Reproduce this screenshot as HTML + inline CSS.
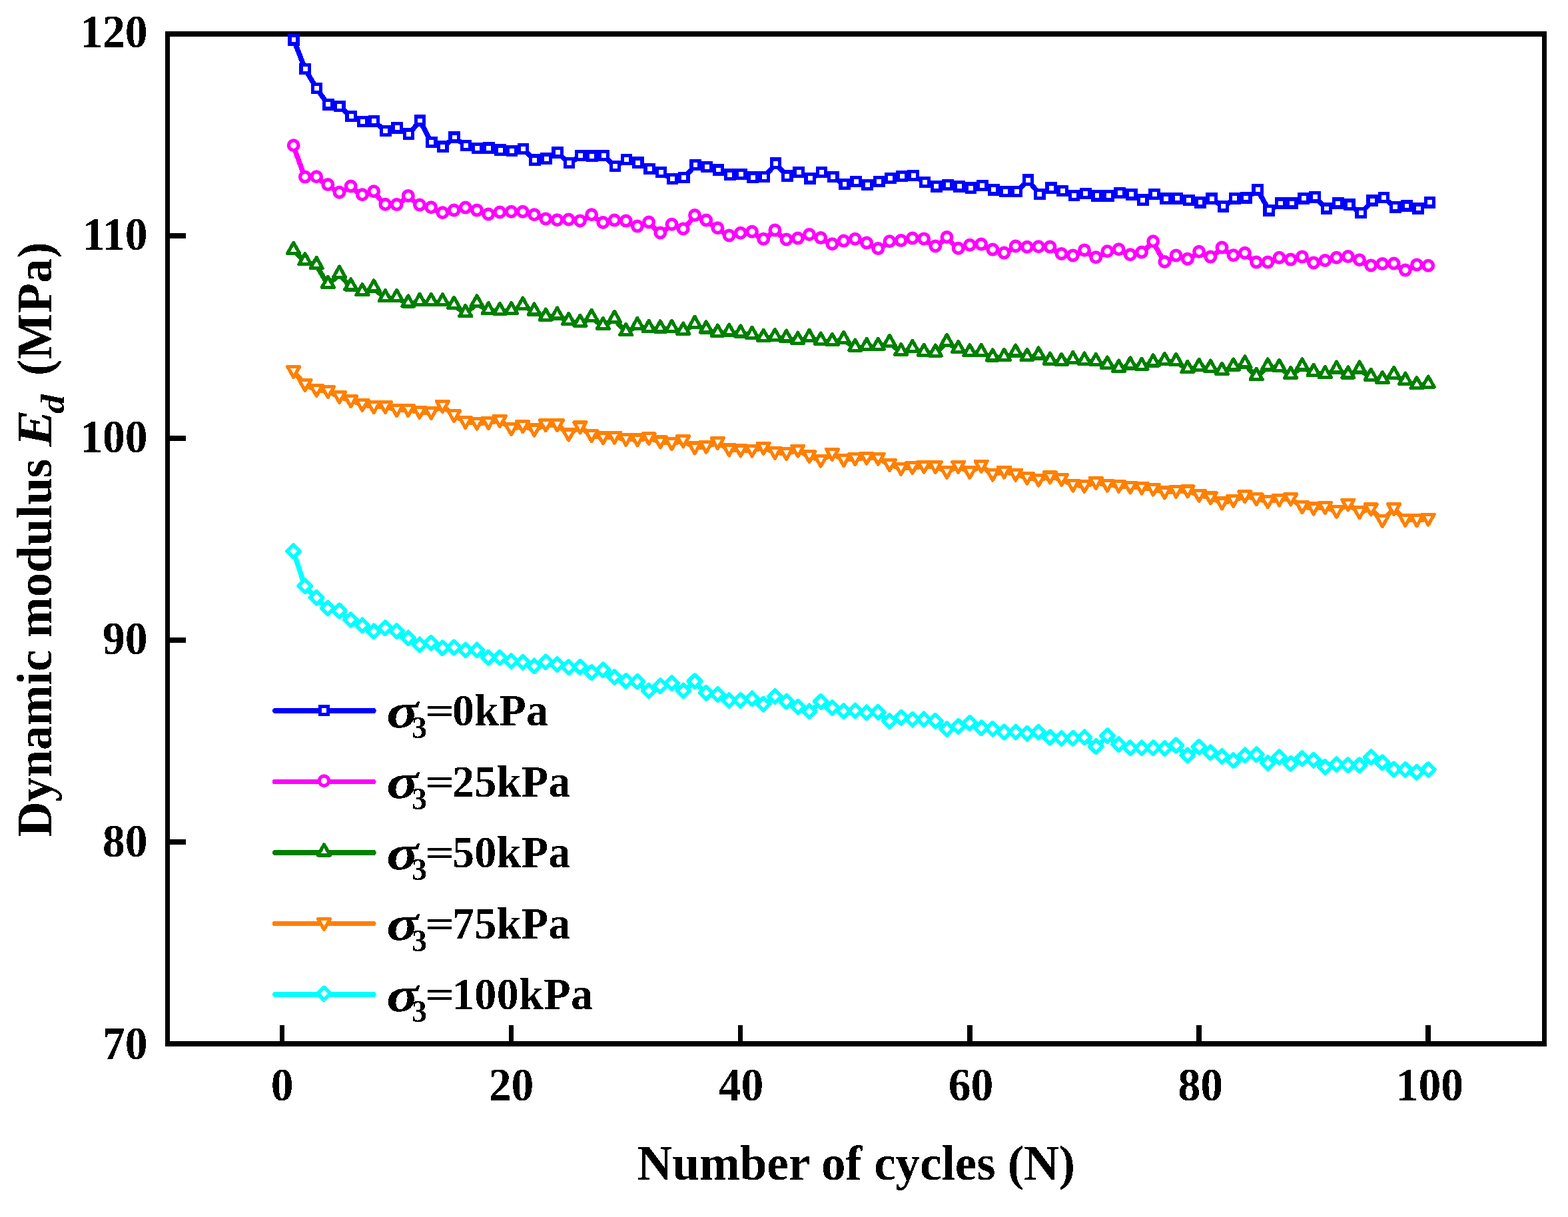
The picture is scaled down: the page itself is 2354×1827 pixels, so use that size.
<!DOCTYPE html>
<html lang="en">
<head>
<meta charset="utf-8">
<title>Dynamic modulus vs number of cycles</title>
<style>
html,body{margin:0;padding:0;background:#fff;}
body{width:2354px;height:1827px;overflow:hidden;}
svg{display:block;}
text{font-family:"Liberation Serif","DejaVu Serif",serif;font-weight:bold;fill:#000;}
.tick{font-size:68px;}
.ttl{font-size:73px;}
.leg{font-size:66px;}
.it{font-style:italic;}
.sub{font-weight:normal;font-style:normal;font-size:42px;}
.ln{fill:none;stroke-linejoin:round;stroke-linecap:round;}
.mk{fill:#fff;stroke-linejoin:round;}
circle{shape-rendering:geometricPrecision;}
.mk rect{stroke-linejoin:miter;}
</style>
</head>
<body>
<svg width="2354" height="1827" viewBox="0 0 2354 1827">
<rect x="0" y="0" width="2354" height="1827" fill="#fff"/>
<defs>
<filter id="hard" x="-25%" y="-25%" width="150%" height="150%" color-interpolation-filters="sRGB">
<feComponentTransfer><feFuncA type="discrete" tableValues="0 1"/></feComponentTransfer>
</filter>
</defs>
<g fill="#000" shape-rendering="crispEdges">
<rect x="248" y="47" width="2074" height="8"/><rect x="248" y="1563" width="2074" height="8"/><rect x="248" y="47" width="7" height="1524"/><rect x="2315" y="47" width="7" height="1524"/>
<rect x="255" y="350" width="24" height="8"/><rect x="255" y="654" width="24" height="8"/><rect x="255" y="957" width="24" height="8"/><rect x="255" y="1260" width="24" height="8"/><rect x="419.75" y="1539" width="7.5" height="24"/><rect x="763.85" y="1539" width="7.5" height="24"/><rect x="1107.95" y="1539" width="7.5" height="24"/><rect x="1452.05" y="1539" width="7.5" height="24"/><rect x="1796.15" y="1539" width="7.5" height="24"/><rect x="2140.25" y="1539" width="7.5" height="24"/>
</g>
<g shape-rendering="crispEdges" stroke="#0000ff">
<polyline class="ln" stroke-width="7.6" points="441.1,60.1 458.3,104.1 475.5,133.1 492.7,157.2 510,160.2 527.2,175.2 544.4,183.2 561.6,182.2 578.9,196.9 596.1,192.4 613.3,201.7 630.5,181.6 647.8,214 665,220.7 682.2,206.5 699.5,219 716.7,223 733.9,222.8 751.1,225.7 768.4,227 785.6,224 802.8,240.8 820,238.7 837.3,229.4 854.5,245.2 871.7,233.9 888.9,234.7 906.2,233.9 923.4,250 940.6,239.9 957.9,244.8 975.1,254 992.3,259.1 1009.5,269.2 1026.8,267.1 1044,248 1061.2,251.1 1078.4,255.6 1095.7,262.8 1112.9,261.9 1130.1,266.8 1147.3,265.9 1164.6,245.8 1181.8,264.7 1199,259.1 1216.3,268.2 1233.5,259.1 1250.7,265.9 1267.9,277.1 1285.2,273.2 1302.4,277.9 1319.6,273.2 1336.8,267.9 1354.1,265.2 1371.3,263.9 1388.5,273.9 1405.8,280.2 1423,277.9 1440.2,280.4 1457.4,282.7 1474.7,279.1 1491.9,285.4 1509.1,287.9 1526.3,287.9 1543.6,270.7 1560.8,291.9 1578,282.7 1595.2,287.2 1612.5,293.9 1629.7,291.2 1646.9,294.4 1664.2,294.4 1681.4,289.9 1698.6,292.4 1715.8,300.7 1733.1,291.9 1750.3,298.8 1767.5,298.2 1784.7,301.2 1802,304.4 1819.2,298.7 1836.4,310.4 1853.6,298.4 1870.9,297.6 1888.1,285.4 1905.3,316.2 1922.6,305.6 1939.8,305.6 1957,298.4 1974.2,296.4 1991.5,313.6 2008.7,305.6 2025.9,307.7 2043.1,319.9 2060.4,301.6 2077.6,297.1 2094.8,311.4 2112,309.6 2129.3,313.6 2146.5,304.4"/>
<g class="mk" stroke-width="5.4"><rect x="434.9" y="53.5" width="12.3" height="12.3"/><rect x="452.1" y="97.4" width="12.3" height="12.3"/><rect x="469.4" y="126.3" width="12.3" height="12.3"/><rect x="486.6" y="150.5" width="12.3" height="12.3"/><rect x="503.8" y="153.4" width="12.3" height="12.3"/><rect x="521" y="168.4" width="12.3" height="12.3"/><rect x="538.3" y="176.4" width="12.3" height="12.3"/><rect x="555.5" y="175.5" width="12.3" height="12.3"/><rect x="572.7" y="190.2" width="12.3" height="12.3"/><rect x="589.9" y="185.7" width="12.3" height="12.3"/><rect x="607.2" y="194.9" width="12.3" height="12.3"/><rect x="624.4" y="174.8" width="12.3" height="12.3"/><rect x="641.6" y="207.2" width="12.3" height="12.3"/><rect x="658.8" y="213.9" width="12.3" height="12.3"/><rect x="676.1" y="199.8" width="12.3" height="12.3"/><rect x="693.3" y="212.2" width="12.3" height="12.3"/><rect x="710.5" y="216.2" width="12.3" height="12.3"/><rect x="727.8" y="216" width="12.3" height="12.3"/><rect x="745" y="218.9" width="12.3" height="12.3"/><rect x="762.2" y="220.2" width="12.3" height="12.3"/><rect x="779.4" y="217.2" width="12.3" height="12.3"/><rect x="796.7" y="234" width="12.3" height="12.3"/><rect x="813.9" y="231.9" width="12.3" height="12.3"/><rect x="831.1" y="222.7" width="12.3" height="12.3"/><rect x="848.3" y="238.4" width="12.3" height="12.3"/><rect x="865.6" y="227.2" width="12.3" height="12.3"/><rect x="882.8" y="227.9" width="12.3" height="12.3"/><rect x="900" y="227.2" width="12.3" height="12.3"/><rect x="917.3" y="243.2" width="12.3" height="12.3"/><rect x="934.5" y="233.2" width="12.3" height="12.3"/><rect x="951.7" y="238" width="12.3" height="12.3"/><rect x="968.9" y="247.2" width="12.3" height="12.3"/><rect x="986.2" y="252.3" width="12.3" height="12.3"/><rect x="1003.4" y="262.5" width="12.3" height="12.3"/><rect x="1020.6" y="260.4" width="12.3" height="12.3"/><rect x="1037.8" y="241.2" width="12.3" height="12.3"/><rect x="1055.1" y="244.3" width="12.3" height="12.3"/><rect x="1072.3" y="248.8" width="12.3" height="12.3"/><rect x="1089.5" y="256.1" width="12.3" height="12.3"/><rect x="1106.7" y="255.2" width="12.3" height="12.3"/><rect x="1124" y="260.1" width="12.3" height="12.3"/><rect x="1141.2" y="259.2" width="12.3" height="12.3"/><rect x="1158.4" y="239" width="12.3" height="12.3"/><rect x="1175.7" y="258" width="12.3" height="12.3"/><rect x="1192.9" y="252.3" width="12.3" height="12.3"/><rect x="1210.1" y="261.6" width="12.3" height="12.3"/><rect x="1227.3" y="252.3" width="12.3" height="12.3"/><rect x="1244.6" y="259.2" width="12.3" height="12.3"/><rect x="1261.8" y="270.4" width="12.3" height="12.3"/><rect x="1279" y="266.5" width="12.3" height="12.3"/><rect x="1296.2" y="271.2" width="12.3" height="12.3"/><rect x="1313.5" y="266.5" width="12.3" height="12.3"/><rect x="1330.7" y="261.2" width="12.3" height="12.3"/><rect x="1347.9" y="258.5" width="12.3" height="12.3"/><rect x="1365.1" y="257.2" width="12.3" height="12.3"/><rect x="1382.4" y="267.2" width="12.3" height="12.3"/><rect x="1399.6" y="273.6" width="12.3" height="12.3"/><rect x="1416.8" y="271.2" width="12.3" height="12.3"/><rect x="1434.1" y="273.7" width="12.3" height="12.3"/><rect x="1451.3" y="276" width="12.3" height="12.3"/><rect x="1468.5" y="272.4" width="12.3" height="12.3"/><rect x="1485.7" y="278.8" width="12.3" height="12.3"/><rect x="1503" y="281.2" width="12.3" height="12.3"/><rect x="1520.2" y="281.2" width="12.3" height="12.3"/><rect x="1537.4" y="264" width="12.3" height="12.3"/><rect x="1554.6" y="285.2" width="12.3" height="12.3"/><rect x="1571.9" y="276" width="12.3" height="12.3"/><rect x="1589.1" y="280.5" width="12.3" height="12.3"/><rect x="1606.3" y="287.2" width="12.3" height="12.3"/><rect x="1623.5" y="284.5" width="12.3" height="12.3"/><rect x="1640.8" y="287.7" width="12.3" height="12.3"/><rect x="1658" y="287.7" width="12.3" height="12.3"/><rect x="1675.2" y="283.2" width="12.3" height="12.3"/><rect x="1692.5" y="285.7" width="12.3" height="12.3"/><rect x="1709.7" y="294" width="12.3" height="12.3"/><rect x="1726.9" y="285.2" width="12.3" height="12.3"/><rect x="1744.1" y="292.1" width="12.3" height="12.3"/><rect x="1761.4" y="291.6" width="12.3" height="12.3"/><rect x="1778.6" y="294.5" width="12.3" height="12.3"/><rect x="1795.8" y="297.7" width="12.3" height="12.3"/><rect x="1813" y="292" width="12.3" height="12.3"/><rect x="1830.3" y="303.7" width="12.3" height="12.3"/><rect x="1847.5" y="291.7" width="12.3" height="12.3"/><rect x="1864.7" y="290.9" width="12.3" height="12.3"/><rect x="1882" y="278.8" width="12.3" height="12.3"/><rect x="1899.2" y="309.6" width="12.3" height="12.3"/><rect x="1916.4" y="298.9" width="12.3" height="12.3"/><rect x="1933.6" y="298.9" width="12.3" height="12.3"/><rect x="1950.9" y="291.7" width="12.3" height="12.3"/><rect x="1968.1" y="289.7" width="12.3" height="12.3"/><rect x="1985.3" y="306.9" width="12.3" height="12.3"/><rect x="2002.5" y="298.9" width="12.3" height="12.3"/><rect x="2019.8" y="301" width="12.3" height="12.3"/><rect x="2037" y="313.2" width="12.3" height="12.3"/><rect x="2054.2" y="294.9" width="12.3" height="12.3"/><rect x="2071.4" y="290.4" width="12.3" height="12.3"/><rect x="2088.7" y="304.8" width="12.3" height="12.3"/><rect x="2105.9" y="302.9" width="12.3" height="12.3"/><rect x="2123.1" y="306.9" width="12.3" height="12.3"/><rect x="2140.4" y="297.7" width="12.3" height="12.3"/></g>
</g>
<g shape-rendering="crispEdges" stroke="#ff00ff">
<polyline class="ln" stroke-width="7.6" points="440.7,219.5 457.9,266.8 475.1,266.5 492.3,278.3 509.5,289.9 526.7,280.7 543.9,293.5 561.2,288.4 578.4,308 595.6,308.3 612.8,295.1 630,308.8 647.2,312.5 664.4,320.5 681.6,316.8 698.8,312.8 716,316.8 733.2,322.7 750.4,319.7 767.6,319 784.8,319 802.1,323.5 819.3,329.6 836.5,331.5 853.7,330.7 870.9,332.6 888.1,323.5 905.3,335.2 922.5,331.8 939.7,332.8 956.9,340.8 974.1,334.7 991.3,350.7 1008.5,337.9 1025.7,344.6 1043,324.3 1060.2,331.8 1077.4,343.5 1094.6,354.7 1111.8,351 1129,349 1146.2,359.9 1163.4,346.6 1180.6,360.7 1197.8,358.8 1215,353.2 1232.2,358.3 1249.4,367.4 1266.6,362.8 1283.8,359.9 1301.1,365.8 1318.3,374.3 1335.5,363.4 1352.7,362.3 1369.9,358.8 1387.1,359.6 1404.3,370.6 1421.5,357.2 1438.7,374 1455.9,369 1473.1,367.8 1490.3,375.8 1507.5,380.8 1524.7,370.7 1542,372 1559.2,371.5 1576.4,371.8 1593.6,382.2 1610.8,384.6 1628,376.6 1645.2,387.5 1662.4,378.4 1679.6,375.5 1696.8,383.5 1714,379.8 1731.2,363.5 1748.4,394.2 1765.6,384.6 1782.9,389.9 1800.1,379 1817.3,386.8 1834.5,372.7 1851.7,384.4 1868.9,381 1886.1,394.8 1903.3,394.8 1920.5,387.9 1937.7,390.8 1954.9,386.6 1972.1,395.6 1989.3,392.2 2006.5,387.9 2023.8,386.3 2041,391.4 2058.2,399.6 2075.4,397.2 2092.6,396.7 2109.8,406.8 2127,398.6 2144.2,399.9"/>
<g class="mk" stroke-width="5.4"><circle cx="440.7" cy="218.3" r="7.3"/><circle cx="457.9" cy="265.6" r="7.3"/><circle cx="475.1" cy="265.3" r="7.3"/><circle cx="492.3" cy="277.1" r="7.3"/><circle cx="509.5" cy="288.7" r="7.3"/><circle cx="526.7" cy="279.5" r="7.3"/><circle cx="543.9" cy="292.3" r="7.3"/><circle cx="561.2" cy="287.2" r="7.3"/><circle cx="578.4" cy="306.8" r="7.3"/><circle cx="595.6" cy="307.1" r="7.3"/><circle cx="612.8" cy="293.9" r="7.3"/><circle cx="630" cy="307.6" r="7.3"/><circle cx="647.2" cy="311.3" r="7.3"/><circle cx="664.4" cy="319.3" r="7.3"/><circle cx="681.6" cy="315.6" r="7.3"/><circle cx="698.8" cy="311.6" r="7.3"/><circle cx="716" cy="315.6" r="7.3"/><circle cx="733.2" cy="321.5" r="7.3"/><circle cx="750.4" cy="318.5" r="7.3"/><circle cx="767.6" cy="317.8" r="7.3"/><circle cx="784.8" cy="317.8" r="7.3"/><circle cx="802.1" cy="322.3" r="7.3"/><circle cx="819.3" cy="328.4" r="7.3"/><circle cx="836.5" cy="330.3" r="7.3"/><circle cx="853.7" cy="329.5" r="7.3"/><circle cx="870.9" cy="331.4" r="7.3"/><circle cx="888.1" cy="322.3" r="7.3"/><circle cx="905.3" cy="334" r="7.3"/><circle cx="922.5" cy="330.6" r="7.3"/><circle cx="939.7" cy="331.6" r="7.3"/><circle cx="956.9" cy="339.6" r="7.3"/><circle cx="974.1" cy="333.5" r="7.3"/><circle cx="991.3" cy="349.5" r="7.3"/><circle cx="1008.5" cy="336.7" r="7.3"/><circle cx="1025.7" cy="343.4" r="7.3"/><circle cx="1043" cy="323.1" r="7.3"/><circle cx="1060.2" cy="330.6" r="7.3"/><circle cx="1077.4" cy="342.3" r="7.3"/><circle cx="1094.6" cy="353.5" r="7.3"/><circle cx="1111.8" cy="349.8" r="7.3"/><circle cx="1129" cy="347.8" r="7.3"/><circle cx="1146.2" cy="358.7" r="7.3"/><circle cx="1163.4" cy="345.4" r="7.3"/><circle cx="1180.6" cy="359.5" r="7.3"/><circle cx="1197.8" cy="357.6" r="7.3"/><circle cx="1215" cy="352" r="7.3"/><circle cx="1232.2" cy="357.1" r="7.3"/><circle cx="1249.4" cy="366.2" r="7.3"/><circle cx="1266.6" cy="361.6" r="7.3"/><circle cx="1283.8" cy="358.7" r="7.3"/><circle cx="1301.1" cy="364.6" r="7.3"/><circle cx="1318.3" cy="373.1" r="7.3"/><circle cx="1335.5" cy="362.2" r="7.3"/><circle cx="1352.7" cy="361.1" r="7.3"/><circle cx="1369.9" cy="357.6" r="7.3"/><circle cx="1387.1" cy="358.4" r="7.3"/><circle cx="1404.3" cy="369.4" r="7.3"/><circle cx="1421.5" cy="356" r="7.3"/><circle cx="1438.7" cy="372.8" r="7.3"/><circle cx="1455.9" cy="367.8" r="7.3"/><circle cx="1473.1" cy="366.6" r="7.3"/><circle cx="1490.3" cy="374.6" r="7.3"/><circle cx="1507.5" cy="379.6" r="7.3"/><circle cx="1524.7" cy="369.5" r="7.3"/><circle cx="1542" cy="370.8" r="7.3"/><circle cx="1559.2" cy="370.3" r="7.3"/><circle cx="1576.4" cy="370.6" r="7.3"/><circle cx="1593.6" cy="381" r="7.3"/><circle cx="1610.8" cy="383.4" r="7.3"/><circle cx="1628" cy="375.4" r="7.3"/><circle cx="1645.2" cy="386.3" r="7.3"/><circle cx="1662.4" cy="377.2" r="7.3"/><circle cx="1679.6" cy="374.3" r="7.3"/><circle cx="1696.8" cy="382.3" r="7.3"/><circle cx="1714" cy="378.6" r="7.3"/><circle cx="1731.2" cy="362.3" r="7.3"/><circle cx="1748.4" cy="393" r="7.3"/><circle cx="1765.6" cy="383.4" r="7.3"/><circle cx="1782.9" cy="388.7" r="7.3"/><circle cx="1800.1" cy="377.8" r="7.3"/><circle cx="1817.3" cy="385.6" r="7.3"/><circle cx="1834.5" cy="371.5" r="7.3"/><circle cx="1851.7" cy="383.2" r="7.3"/><circle cx="1868.9" cy="379.8" r="7.3"/><circle cx="1886.1" cy="393.6" r="7.3"/><circle cx="1903.3" cy="393.6" r="7.3"/><circle cx="1920.5" cy="386.7" r="7.3"/><circle cx="1937.7" cy="389.6" r="7.3"/><circle cx="1954.9" cy="385.4" r="7.3"/><circle cx="1972.1" cy="394.4" r="7.3"/><circle cx="1989.3" cy="391" r="7.3"/><circle cx="2006.5" cy="386.7" r="7.3"/><circle cx="2023.8" cy="385.1" r="7.3"/><circle cx="2041" cy="390.2" r="7.3"/><circle cx="2058.2" cy="398.4" r="7.3"/><circle cx="2075.4" cy="396" r="7.3"/><circle cx="2092.6" cy="395.5" r="7.3"/><circle cx="2109.8" cy="405.6" r="7.3"/><circle cx="2127" cy="397.4" r="7.3"/><circle cx="2144.2" cy="398.7" r="7.3"/></g>
</g>
<g shape-rendering="crispEdges" stroke="#008000">
<polyline class="ln" stroke-width="7.6" points="440.7,376.4 457.9,392.7 475.1,398.6 492.3,427.4 509.5,412.2 526.7,431 543.9,438.7 561.2,433 578.4,447.9 595.6,447.5 612.8,456 630,453.4 647.2,453.4 664.4,453.9 681.6,458.4 698.8,470.7 716,455.8 733.2,466.7 750.4,467.5 767.6,466.7 784.8,459.3 802.1,468.1 819.3,476.2 836.5,474.1 853.7,482.6 870.9,485.3 888.1,477.3 905.3,489.5 922.5,479.4 939.7,498.9 956.9,489.5 974.1,493.5 991.3,494.1 1008.5,493.5 1025.7,497.3 1043,487.4 1060.2,495.1 1077.4,500.2 1094.6,499.1 1111.8,501 1129,503.3 1146.2,507.4 1163.4,506.5 1180.6,508.2 1197.8,511.3 1215,507.4 1232.2,512.2 1249.4,513.4 1266.6,510.5 1283.8,522.2 1301.1,520.6 1318.3,520.3 1335.5,515.3 1352.7,528.6 1369.9,523.5 1387.1,529.4 1404.3,530.2 1421.5,514.5 1438.7,524.6 1455.9,529.7 1473.1,529.4 1490.3,537 1507.5,536.5 1524.7,530.1 1542,536.5 1559.2,534.1 1576.4,542.2 1593.6,543.4 1610.8,540.5 1628,542.2 1645.2,543.4 1662.4,548.2 1679.6,553.3 1696.8,549 1714,550.3 1731.2,545 1748.4,542.6 1765.6,543.4 1782.9,554.6 1800.1,551.4 1817.3,553.2 1834.5,557.5 1851.7,551.1 1868.9,547.1 1886.1,565.5 1903.3,551.1 1920.5,552.4 1937.7,563.5 1954.9,551.1 1972.1,559.5 1989.3,562.7 2006.5,555.1 2023.8,563.1 2041,555.1 2058.2,566.3 2075.4,570.4 2092.6,563.5 2109.8,572.3 2127,578.7 2144.2,577.2"/>
<g class="mk" stroke-width="5.2"><path d="M440.7 364.3L449.7 380.3H431.7Z"/><path d="M457.9 380.6L466.9 396.6H448.9Z"/><path d="M475.1 386.5L484.1 402.5H466.1Z"/><path d="M492.3 415.3L501.3 431.3H483.3Z"/><path d="M509.5 400.1L518.5 416.1H500.5Z"/><path d="M526.7 418.9L535.7 434.9H517.7Z"/><path d="M543.9 426.6L552.9 442.6H534.9Z"/><path d="M561.2 420.9L570.2 436.9H552.2Z"/><path d="M578.4 435.8L587.4 451.8H569.4Z"/><path d="M595.6 435.4L604.6 451.4H586.6Z"/><path d="M612.8 443.9L621.8 459.9H603.8Z"/><path d="M630 441.3L639 457.3H621Z"/><path d="M647.2 441.3L656.2 457.3H638.2Z"/><path d="M664.4 441.8L673.4 457.8H655.4Z"/><path d="M681.6 446.3L690.6 462.3H672.6Z"/><path d="M698.8 458.6L707.8 474.6H689.8Z"/><path d="M716 443.7L725 459.7H707Z"/><path d="M733.2 454.6L742.2 470.6H724.2Z"/><path d="M750.4 455.4L759.4 471.4H741.4Z"/><path d="M767.6 454.6L776.6 470.6H758.6Z"/><path d="M784.8 447.2L793.8 463.2H775.8Z"/><path d="M802.1 456L811.1 472H793.1Z"/><path d="M819.3 464.1L828.3 480.1H810.3Z"/><path d="M836.5 462L845.5 478H827.5Z"/><path d="M853.7 470.5L862.7 486.5H844.7Z"/><path d="M870.9 473.2L879.9 489.2H861.9Z"/><path d="M888.1 465.2L897.1 481.2H879.1Z"/><path d="M905.3 477.4L914.3 493.4H896.3Z"/><path d="M922.5 467.3L931.5 483.3H913.5Z"/><path d="M939.7 486.8L948.7 502.8H930.7Z"/><path d="M956.9 477.4L965.9 493.4H947.9Z"/><path d="M974.1 481.4L983.1 497.4H965.1Z"/><path d="M991.3 482L1000.3 498H982.3Z"/><path d="M1008.5 481.4L1017.5 497.4H999.5Z"/><path d="M1025.7 485.2L1034.7 501.2H1016.7Z"/><path d="M1043 475.3L1052 491.3H1034Z"/><path d="M1060.2 483L1069.2 499H1051.2Z"/><path d="M1077.4 488.1L1086.4 504.1H1068.4Z"/><path d="M1094.6 487L1103.6 503H1085.6Z"/><path d="M1111.8 488.9L1120.8 504.9H1102.8Z"/><path d="M1129 491.2L1138 507.2H1120Z"/><path d="M1146.2 495.3L1155.2 511.3H1137.2Z"/><path d="M1163.4 494.4L1172.4 510.4H1154.4Z"/><path d="M1180.6 496.1L1189.6 512.1H1171.6Z"/><path d="M1197.8 499.2L1206.8 515.2H1188.8Z"/><path d="M1215 495.3L1224 511.3H1206Z"/><path d="M1232.2 500.1L1241.2 516.1H1223.2Z"/><path d="M1249.4 501.3L1258.4 517.3H1240.4Z"/><path d="M1266.6 498.4L1275.6 514.4H1257.6Z"/><path d="M1283.8 510.1L1292.8 526.1H1274.8Z"/><path d="M1301.1 508.5L1310.1 524.5H1292.1Z"/><path d="M1318.3 508.2L1327.3 524.2H1309.3Z"/><path d="M1335.5 503.2L1344.5 519.2H1326.5Z"/><path d="M1352.7 516.5L1361.7 532.5H1343.7Z"/><path d="M1369.9 511.4L1378.9 527.4H1360.9Z"/><path d="M1387.1 517.3L1396.1 533.3H1378.1Z"/><path d="M1404.3 518.1L1413.3 534.1H1395.3Z"/><path d="M1421.5 502.4L1430.5 518.4H1412.5Z"/><path d="M1438.7 512.5L1447.7 528.5H1429.7Z"/><path d="M1455.9 517.6L1464.9 533.6H1446.9Z"/><path d="M1473.1 517.3L1482.1 533.3H1464.1Z"/><path d="M1490.3 524.9L1499.3 540.9H1481.3Z"/><path d="M1507.5 524.4L1516.5 540.4H1498.5Z"/><path d="M1524.7 518L1533.7 534H1515.7Z"/><path d="M1542 524.4L1551 540.4H1533Z"/><path d="M1559.2 522L1568.2 538H1550.2Z"/><path d="M1576.4 530.1L1585.4 546.1H1567.4Z"/><path d="M1593.6 531.3L1602.6 547.3H1584.6Z"/><path d="M1610.8 528.4L1619.8 544.4H1601.8Z"/><path d="M1628 530.1L1637 546.1H1619Z"/><path d="M1645.2 531.3L1654.2 547.3H1636.2Z"/><path d="M1662.4 536.1L1671.4 552.1H1653.4Z"/><path d="M1679.6 541.2L1688.6 557.2H1670.6Z"/><path d="M1696.8 536.9L1705.8 552.9H1687.8Z"/><path d="M1714 538.2L1723 554.2H1705Z"/><path d="M1731.2 532.9L1740.2 548.9H1722.2Z"/><path d="M1748.4 530.5L1757.4 546.5H1739.4Z"/><path d="M1765.6 531.3L1774.6 547.3H1756.6Z"/><path d="M1782.9 542.5L1791.9 558.5H1773.9Z"/><path d="M1800.1 539.3L1809.1 555.3H1791.1Z"/><path d="M1817.3 541.1L1826.3 557.1H1808.3Z"/><path d="M1834.5 545.4L1843.5 561.4H1825.5Z"/><path d="M1851.7 539L1860.7 555H1842.7Z"/><path d="M1868.9 535L1877.9 551H1859.9Z"/><path d="M1886.1 553.4L1895.1 569.4H1877.1Z"/><path d="M1903.3 539L1912.3 555H1894.3Z"/><path d="M1920.5 540.3L1929.5 556.3H1911.5Z"/><path d="M1937.7 551.4L1946.7 567.4H1928.7Z"/><path d="M1954.9 539L1963.9 555H1945.9Z"/><path d="M1972.1 547.4L1981.1 563.4H1963.1Z"/><path d="M1989.3 550.6L1998.3 566.6H1980.3Z"/><path d="M2006.5 543L2015.5 559H1997.5Z"/><path d="M2023.8 551L2032.8 567H2014.8Z"/><path d="M2041 543L2050 559H2032Z"/><path d="M2058.2 554.2L2067.2 570.2H2049.2Z"/><path d="M2075.4 558.3L2084.4 574.3H2066.4Z"/><path d="M2092.6 551.4L2101.6 567.4H2083.6Z"/><path d="M2109.8 560.2L2118.8 576.2H2100.8Z"/><path d="M2127 566.6L2136 582.6H2118Z"/><path d="M2144.2 565.1L2153.2 581.1H2135.2Z"/></g>
</g>
<g shape-rendering="crispEdges" stroke="#ff8000">
<polyline class="ln" stroke-width="7.6" points="440.7,557.4 457.9,577.4 475.1,585.4 492.3,587.5 509.5,595.5 526.7,601.4 543.9,607.4 561.2,610.6 578.4,610.2 595.6,615.5 612.8,615.4 630,618.4 647.2,619.4 664.4,609.4 681.6,623.5 698.8,633.5 716,635.1 733.2,634.4 750.4,631.4 767.6,643.6 784.8,639.8 802.1,644.9 819.3,637.8 836.5,637.8 853.7,651.9 870.9,640.9 888.1,653.8 905.3,656.9 922.5,656.1 939.7,659.4 956.9,659.9 974.1,657.8 991.3,662.9 1008.5,665.8 1025.7,661.8 1043,671.9 1060.2,670.2 1077.4,664.6 1094.6,674.9 1111.8,675.9 1129,676.1 1146.2,672.1 1163.4,679.2 1180.6,680.5 1197.8,676.1 1215,684.5 1232.2,691.2 1249.4,681.4 1266.6,690.4 1283.8,688.5 1301.1,687.2 1318.3,688 1335.5,697.4 1352.7,703.2 1369.9,701.4 1387.1,700.2 1404.3,700.2 1421.5,708.5 1438.7,700.2 1455.9,708.5 1473.1,699.4 1490.3,712.1 1507.5,708.1 1524.7,712.1 1542,717.2 1559.2,720.1 1576.4,715.9 1593.6,719.4 1610.8,728.1 1628,729.4 1645.2,724.4 1662.4,728.1 1679.6,729.2 1696.8,731 1714,732.1 1731.2,734.2 1748.4,738.9 1765.6,737.2 1782.9,736.9 1800.1,743.4 1817.3,746.9 1834.5,754.9 1851.7,751.1 1868.9,744.8 1886.1,748.8 1903.3,752.8 1920.5,750 1937.7,748.8 1954.9,760.8 1972.1,762.9 1989.3,761.5 2006.5,767.6 2023.8,757 2041,768.8 2058.2,763.9 2075.4,781.5 2092.6,763.6 2109.8,780.4 2127,780.8 2144.2,779.1"/>
<g class="mk" stroke-width="5.2"><path d="M440.7 566.4L449.7 550.5H431.7Z"/><path d="M457.9 586.4L466.9 570.5H448.9Z"/><path d="M475.1 594.4L484.1 578.5H466.1Z"/><path d="M492.3 596.5L501.3 580.6H483.3Z"/><path d="M509.5 604.5L518.5 588.6H500.5Z"/><path d="M526.7 610.4L535.7 594.5H517.7Z"/><path d="M543.9 616.4L552.9 600.5H534.9Z"/><path d="M561.2 619.6L570.2 603.7H552.2Z"/><path d="M578.4 619.2L587.4 603.3H569.4Z"/><path d="M595.6 624.5L604.6 608.6H586.6Z"/><path d="M612.8 624.4L621.8 608.5H603.8Z"/><path d="M630 627.4L639 611.4H621Z"/><path d="M647.2 628.4L656.2 612.5H638.2Z"/><path d="M664.4 618.4L673.4 602.5H655.4Z"/><path d="M681.6 632.5L690.6 616.6H672.6Z"/><path d="M698.8 642.5L707.8 626.6H689.8Z"/><path d="M716 644.1L725 628.2H707Z"/><path d="M733.2 643.4L742.2 627.4H724.2Z"/><path d="M750.4 640.4L759.4 624.5H741.4Z"/><path d="M767.6 652.6L776.6 636.7H758.6Z"/><path d="M784.8 648.8L793.8 632.8H775.8Z"/><path d="M802.1 653.9L811.1 638H793.1Z"/><path d="M819.3 646.8L828.3 630.8H810.3Z"/><path d="M836.5 646.8L845.5 630.8H827.5Z"/><path d="M853.7 660.9L862.7 644.9H844.7Z"/><path d="M870.9 649.9L879.9 634H861.9Z"/><path d="M888.1 662.8L897.1 646.8H879.1Z"/><path d="M905.3 665.9L914.3 650H896.3Z"/><path d="M922.5 665.1L931.5 649.2H913.5Z"/><path d="M939.7 668.4L948.7 652.4H930.7Z"/><path d="M956.9 668.9L965.9 652.9H947.9Z"/><path d="M974.1 666.8L983.1 650.8H965.1Z"/><path d="M991.3 671.9L1000.3 655.9H982.3Z"/><path d="M1008.5 674.8L1017.5 658.8H999.5Z"/><path d="M1025.7 670.8L1034.7 654.8H1016.7Z"/><path d="M1043 680.9L1052 664.9H1034Z"/><path d="M1060.2 679.2L1069.2 663.3H1051.2Z"/><path d="M1077.4 673.6L1086.4 657.7H1068.4Z"/><path d="M1094.6 683.9L1103.6 667.9H1085.6Z"/><path d="M1111.8 684.9L1120.8 668.9H1102.8Z"/><path d="M1129 685.1L1138 669.2H1120Z"/><path d="M1146.2 681.1L1155.2 665.2H1137.2Z"/><path d="M1163.4 688.2L1172.4 672.3H1154.4Z"/><path d="M1180.6 689.5L1189.6 673.6H1171.6Z"/><path d="M1197.8 685.1L1206.8 669.2H1188.8Z"/><path d="M1215 693.5L1224 677.6H1206Z"/><path d="M1232.2 700.2L1241.2 684.3H1223.2Z"/><path d="M1249.4 690.4L1258.4 674.4H1240.4Z"/><path d="M1266.6 699.4L1275.6 683.5H1257.6Z"/><path d="M1283.8 697.5L1292.8 681.6H1274.8Z"/><path d="M1301.1 696.2L1310.1 680.3H1292.1Z"/><path d="M1318.3 697L1327.3 681.1H1309.3Z"/><path d="M1335.5 706.4L1344.5 690.4H1326.5Z"/><path d="M1352.7 712.2L1361.7 696.3H1343.7Z"/><path d="M1369.9 710.4L1378.9 694.4H1360.9Z"/><path d="M1387.1 709.2L1396.1 693.3H1378.1Z"/><path d="M1404.3 709.2L1413.3 693.3H1395.3Z"/><path d="M1421.5 717.5L1430.5 701.6H1412.5Z"/><path d="M1438.7 709.2L1447.7 693.3H1429.7Z"/><path d="M1455.9 717.5L1464.9 701.6H1446.9Z"/><path d="M1473.1 708.4L1482.1 692.4H1464.1Z"/><path d="M1490.3 721.1L1499.3 705.2H1481.3Z"/><path d="M1507.5 717.1L1516.5 701.2H1498.5Z"/><path d="M1524.7 721.1L1533.7 705.2H1515.7Z"/><path d="M1542 726.2L1551 710.3H1533Z"/><path d="M1559.2 729.1L1568.2 713.2H1550.2Z"/><path d="M1576.4 724.9L1585.4 708.9H1567.4Z"/><path d="M1593.6 728.4L1602.6 712.4H1584.6Z"/><path d="M1610.8 737.1L1619.8 721.2H1601.8Z"/><path d="M1628 738.4L1637 722.5H1619Z"/><path d="M1645.2 733.4L1654.2 717.5H1636.2Z"/><path d="M1662.4 737.1L1671.4 721.2H1653.4Z"/><path d="M1679.6 738.2L1688.6 722.3H1670.6Z"/><path d="M1696.8 740L1705.8 724.1H1687.8Z"/><path d="M1714 741.1L1723 725.2H1705Z"/><path d="M1731.2 743.2L1740.2 727.3H1722.2Z"/><path d="M1748.4 747.9L1757.4 731.9H1739.4Z"/><path d="M1765.6 746.2L1774.6 730.3H1756.6Z"/><path d="M1782.9 745.9L1791.9 730H1773.9Z"/><path d="M1800.1 752.4L1809.1 736.4H1791.1Z"/><path d="M1817.3 755.9L1826.3 739.9H1808.3Z"/><path d="M1834.5 763.9L1843.5 747.9H1825.5Z"/><path d="M1851.7 760.1L1860.7 744.2H1842.7Z"/><path d="M1868.9 753.8L1877.9 737.8H1859.9Z"/><path d="M1886.1 757.8L1895.1 741.8H1877.1Z"/><path d="M1903.3 761.8L1912.3 745.8H1894.3Z"/><path d="M1920.5 759L1929.5 743.1H1911.5Z"/><path d="M1937.7 757.8L1946.7 741.8H1928.7Z"/><path d="M1954.9 769.8L1963.9 753.8H1945.9Z"/><path d="M1972.1 771.9L1981.1 755.9H1963.1Z"/><path d="M1989.3 770.5L1998.3 754.6H1980.3Z"/><path d="M2006.5 776.6L2015.5 760.7H1997.5Z"/><path d="M2023.8 766L2032.8 750.1H2014.8Z"/><path d="M2041 777.8L2050 761.8H2032Z"/><path d="M2058.2 772.9L2067.2 757H2049.2Z"/><path d="M2075.4 790.5L2084.4 774.6H2066.4Z"/><path d="M2092.6 772.6L2101.6 756.7H2083.6Z"/><path d="M2109.8 789.4L2118.8 773.5H2100.8Z"/><path d="M2127 789.8L2136 773.8H2118Z"/><path d="M2144.2 788.1L2153.2 772.2H2135.2Z"/></g>
</g>
<g shape-rendering="crispEdges" stroke="#00ffff">
<polyline class="ln" stroke-width="7.6" points="440.7,828.8 457.9,880.7 475.1,898.5 492.3,914.1 509.5,918.1 526.7,931.7 543.9,940 561.2,948.9 578.4,944 595.6,948.9 612.8,959 630,968.9 647.2,966.2 664.4,973.9 681.6,973.1 698.8,977.1 716,977.1 733.2,988.3 750.4,988.3 767.6,993.4 784.8,995.2 802.1,1000.9 819.3,994.9 836.5,998.9 853.7,1002.9 870.9,1002.4 888.1,1010.6 905.3,1006.9 922.5,1017.6 939.7,1023.2 956.9,1024.5 974.1,1038.1 991.3,1030.9 1008.5,1026.6 1025.7,1038.1 1043,1023.7 1060.2,1041.3 1077.4,1043.7 1094.6,1052.5 1111.8,1052.5 1129,1050 1146.2,1058.2 1163.4,1046.8 1180.6,1054.2 1197.8,1062.2 1215,1068.9 1232.2,1054.5 1249.4,1063.8 1266.6,1068.9 1283.8,1068.1 1301.1,1071 1318.3,1070.2 1335.5,1083.3 1352.7,1078.2 1369.9,1081.3 1387.1,1080.9 1404.3,1083.3 1421.5,1095.8 1438.7,1091.4 1455.9,1086.5 1473.1,1093.7 1490.3,1095.3 1507.5,1100.1 1524.7,1100.1 1542,1102.2 1559.2,1100.1 1576.4,1108.1 1593.6,1109.4 1610.8,1109.4 1628,1108.1 1645.2,1121.7 1662.4,1105.7 1679.6,1118.5 1696.8,1123.8 1714,1123.8 1731.2,1123.8 1748.4,1124.5 1765.6,1120.1 1782.9,1135 1800.1,1122.5 1817.3,1131 1834.5,1136.9 1851.7,1142.8 1868.9,1135 1886.1,1133.7 1903.3,1146.5 1920.5,1137.7 1937.7,1147.3 1954.9,1139.8 1972.1,1142.2 1989.3,1152.4 2006.5,1148.6 2023.8,1149.7 2041,1149.7 2058.2,1137.7 2075.4,1146 2092.6,1156.1 2109.8,1156.5 2127,1160.5 2144.2,1156.5"/>
<g class="mk" stroke-width="5.7"><path d="M440.7 818.1L450.3 827.7L440.7 837.3L431.1 827.7Z"/><path d="M457.9 870L467.5 879.6L457.9 889.2L448.3 879.6Z"/><path d="M475.1 887.8L484.7 897.4L475.1 907L465.5 897.4Z"/><path d="M492.3 903.4L501.9 913L492.3 922.6L482.7 913Z"/><path d="M509.5 907.4L519.1 917L509.5 926.6L499.9 917Z"/><path d="M526.7 921L536.3 930.6L526.7 940.2L517.1 930.6Z"/><path d="M543.9 929.3L553.5 938.9L543.9 948.5L534.3 938.9Z"/><path d="M561.2 938.2L570.8 947.8L561.2 957.4L551.6 947.8Z"/><path d="M578.4 933.3L588 942.9L578.4 952.5L568.8 942.9Z"/><path d="M595.6 938.2L605.2 947.8L595.6 957.4L586 947.8Z"/><path d="M612.8 948.3L622.4 957.9L612.8 967.5L603.2 957.9Z"/><path d="M630 958.2L639.6 967.8L630 977.4L620.4 967.8Z"/><path d="M647.2 955.5L656.8 965.1L647.2 974.7L637.6 965.1Z"/><path d="M664.4 963.2L674 972.8L664.4 982.4L654.8 972.8Z"/><path d="M681.6 962.4L691.2 972L681.6 981.6L672 972Z"/><path d="M698.8 966.4L708.4 976L698.8 985.6L689.2 976Z"/><path d="M716 966.4L725.6 976L716 985.6L706.4 976Z"/><path d="M733.2 977.6L742.8 987.2L733.2 996.8L723.6 987.2Z"/><path d="M750.4 977.6L760 987.2L750.4 996.8L740.8 987.2Z"/><path d="M767.6 982.7L777.2 992.3L767.6 1001.9L758 992.3Z"/><path d="M784.8 984.5L794.4 994.1L784.8 1003.7L775.2 994.1Z"/><path d="M802.1 990.2L811.7 999.8L802.1 1009.4L792.5 999.8Z"/><path d="M819.3 984.2L828.9 993.8L819.3 1003.4L809.7 993.8Z"/><path d="M836.5 988.2L846.1 997.8L836.5 1007.4L826.9 997.8Z"/><path d="M853.7 992.2L863.3 1001.8L853.7 1011.4L844.1 1001.8Z"/><path d="M870.9 991.7L880.5 1001.3L870.9 1010.9L861.3 1001.3Z"/><path d="M888.1 999.9L897.7 1009.5L888.1 1019.1L878.5 1009.5Z"/><path d="M905.3 996.2L914.9 1005.8L905.3 1015.4L895.7 1005.8Z"/><path d="M922.5 1006.9L932.1 1016.5L922.5 1026.1L912.9 1016.5Z"/><path d="M939.7 1012.5L949.3 1022.1L939.7 1031.7L930.1 1022.1Z"/><path d="M956.9 1013.8L966.5 1023.4L956.9 1033L947.3 1023.4Z"/><path d="M974.1 1027.4L983.7 1037L974.1 1046.6L964.5 1037Z"/><path d="M991.3 1020.2L1000.9 1029.8L991.3 1039.4L981.7 1029.8Z"/><path d="M1008.5 1015.9L1018.1 1025.5L1008.5 1035.1L998.9 1025.5Z"/><path d="M1025.7 1027.4L1035.3 1037L1025.7 1046.6L1016.1 1037Z"/><path d="M1043 1013L1052.6 1022.6L1043 1032.2L1033.4 1022.6Z"/><path d="M1060.2 1030.6L1069.8 1040.2L1060.2 1049.8L1050.6 1040.2Z"/><path d="M1077.4 1033L1087 1042.6L1077.4 1052.2L1067.8 1042.6Z"/><path d="M1094.6 1041.8L1104.2 1051.4L1094.6 1061L1085 1051.4Z"/><path d="M1111.8 1041.8L1121.4 1051.4L1111.8 1061L1102.2 1051.4Z"/><path d="M1129 1039.3L1138.6 1048.9L1129 1058.5L1119.4 1048.9Z"/><path d="M1146.2 1047.5L1155.8 1057.1L1146.2 1066.7L1136.6 1057.1Z"/><path d="M1163.4 1036.1L1173 1045.7L1163.4 1055.3L1153.8 1045.7Z"/><path d="M1180.6 1043.5L1190.2 1053.1L1180.6 1062.7L1171 1053.1Z"/><path d="M1197.8 1051.5L1207.4 1061.1L1197.8 1070.7L1188.2 1061.1Z"/><path d="M1215 1058.2L1224.6 1067.8L1215 1077.4L1205.4 1067.8Z"/><path d="M1232.2 1043.8L1241.8 1053.4L1232.2 1063L1222.6 1053.4Z"/><path d="M1249.4 1053.1L1259 1062.7L1249.4 1072.3L1239.8 1062.7Z"/><path d="M1266.6 1058.2L1276.2 1067.8L1266.6 1077.4L1257 1067.8Z"/><path d="M1283.8 1057.4L1293.4 1067L1283.8 1076.6L1274.2 1067Z"/><path d="M1301.1 1060.3L1310.7 1069.9L1301.1 1079.5L1291.5 1069.9Z"/><path d="M1318.3 1059.5L1327.9 1069.1L1318.3 1078.7L1308.7 1069.1Z"/><path d="M1335.5 1072.6L1345.1 1082.2L1335.5 1091.8L1325.9 1082.2Z"/><path d="M1352.7 1067.5L1362.3 1077.1L1352.7 1086.7L1343.1 1077.1Z"/><path d="M1369.9 1070.6L1379.5 1080.2L1369.9 1089.8L1360.3 1080.2Z"/><path d="M1387.1 1070.2L1396.7 1079.8L1387.1 1089.4L1377.5 1079.8Z"/><path d="M1404.3 1072.6L1413.9 1082.2L1404.3 1091.8L1394.7 1082.2Z"/><path d="M1421.5 1085.1L1431.1 1094.7L1421.5 1104.3L1411.9 1094.7Z"/><path d="M1438.7 1080.7L1448.3 1090.3L1438.7 1099.9L1429.1 1090.3Z"/><path d="M1455.9 1075.8L1465.5 1085.4L1455.9 1095L1446.3 1085.4Z"/><path d="M1473.1 1083L1482.7 1092.6L1473.1 1102.2L1463.5 1092.6Z"/><path d="M1490.3 1084.6L1499.9 1094.2L1490.3 1103.8L1480.7 1094.2Z"/><path d="M1507.5 1089.4L1517.1 1099L1507.5 1108.6L1497.9 1099Z"/><path d="M1524.7 1089.4L1534.3 1099L1524.7 1108.6L1515.1 1099Z"/><path d="M1542 1091.5L1551.6 1101.1L1542 1110.7L1532.4 1101.1Z"/><path d="M1559.2 1089.4L1568.8 1099L1559.2 1108.6L1549.6 1099Z"/><path d="M1576.4 1097.4L1586 1107L1576.4 1116.6L1566.8 1107Z"/><path d="M1593.6 1098.7L1603.2 1108.3L1593.6 1117.9L1584 1108.3Z"/><path d="M1610.8 1098.7L1620.4 1108.3L1610.8 1117.9L1601.2 1108.3Z"/><path d="M1628 1097.4L1637.6 1107L1628 1116.6L1618.4 1107Z"/><path d="M1645.2 1111L1654.8 1120.6L1645.2 1130.2L1635.6 1120.6Z"/><path d="M1662.4 1095L1672 1104.6L1662.4 1114.2L1652.8 1104.6Z"/><path d="M1679.6 1107.8L1689.2 1117.4L1679.6 1127L1670 1117.4Z"/><path d="M1696.8 1113.1L1706.4 1122.7L1696.8 1132.3L1687.2 1122.7Z"/><path d="M1714 1113.1L1723.6 1122.7L1714 1132.3L1704.4 1122.7Z"/><path d="M1731.2 1113.1L1740.8 1122.7L1731.2 1132.3L1721.6 1122.7Z"/><path d="M1748.4 1113.8L1758 1123.4L1748.4 1133L1738.8 1123.4Z"/><path d="M1765.6 1109.4L1775.2 1119L1765.6 1128.6L1756 1119Z"/><path d="M1782.9 1124.3L1792.5 1133.9L1782.9 1143.5L1773.3 1133.9Z"/><path d="M1800.1 1111.8L1809.7 1121.4L1800.1 1131L1790.5 1121.4Z"/><path d="M1817.3 1120.3L1826.9 1129.9L1817.3 1139.5L1807.7 1129.9Z"/><path d="M1834.5 1126.2L1844.1 1135.8L1834.5 1145.4L1824.9 1135.8Z"/><path d="M1851.7 1132.1L1861.3 1141.7L1851.7 1151.3L1842.1 1141.7Z"/><path d="M1868.9 1124.3L1878.5 1133.9L1868.9 1143.5L1859.3 1133.9Z"/><path d="M1886.1 1123L1895.7 1132.6L1886.1 1142.2L1876.5 1132.6Z"/><path d="M1903.3 1135.8L1912.9 1145.4L1903.3 1155L1893.7 1145.4Z"/><path d="M1920.5 1127L1930.1 1136.6L1920.5 1146.2L1910.9 1136.6Z"/><path d="M1937.7 1136.6L1947.3 1146.2L1937.7 1155.8L1928.1 1146.2Z"/><path d="M1954.9 1129.1L1964.5 1138.7L1954.9 1148.3L1945.3 1138.7Z"/><path d="M1972.1 1131.5L1981.7 1141.1L1972.1 1150.7L1962.5 1141.1Z"/><path d="M1989.3 1141.7L1998.9 1151.3L1989.3 1160.9L1979.7 1151.3Z"/><path d="M2006.5 1137.9L2016.1 1147.5L2006.5 1157.1L1996.9 1147.5Z"/><path d="M2023.8 1139L2033.4 1148.6L2023.8 1158.2L2014.2 1148.6Z"/><path d="M2041 1139L2050.6 1148.6L2041 1158.2L2031.4 1148.6Z"/><path d="M2058.2 1127L2067.8 1136.6L2058.2 1146.2L2048.6 1136.6Z"/><path d="M2075.4 1135.3L2085 1144.9L2075.4 1154.5L2065.8 1144.9Z"/><path d="M2092.6 1145.4L2102.2 1155L2092.6 1164.6L2083 1155Z"/><path d="M2109.8 1145.8L2119.4 1155.4L2109.8 1165L2100.2 1155.4Z"/><path d="M2127 1149.8L2136.6 1159.4L2127 1169L2117.4 1159.4Z"/><path d="M2144.2 1145.8L2153.8 1155.4L2144.2 1165L2134.6 1155.4Z"/></g>
</g>
<g class="tick" text-anchor="end">
<text filter="url(#hard)" transform="translate(221.6 70.8) scale(0.993 1.035)">120</text><text filter="url(#hard)" transform="translate(221.6 374.7) scale(0.993 1.035)">110</text><text filter="url(#hard)" transform="translate(221.6 678.5) scale(0.993 1.035)">100</text><text filter="url(#hard)" transform="translate(221.6 982.4) scale(0.993 1.035)">90</text><text filter="url(#hard)" transform="translate(221.6 1286.2) scale(0.993 1.035)">80</text><text filter="url(#hard)" transform="translate(221.6 1590) scale(0.993 1.035)">70</text>
</g>
<g class="tick" text-anchor="middle">
<text filter="url(#hard)" transform="translate(423.6 1651.9) scale(0.993 1.035)">0</text><text filter="url(#hard)" transform="translate(767.6 1651.9) scale(0.993 1.035)">20</text><text filter="url(#hard)" transform="translate(1112.6 1651.9) scale(0.993 1.035)">40</text><text filter="url(#hard)" transform="translate(1457.4 1651.9) scale(0.993 1.035)">60</text><text filter="url(#hard)" transform="translate(1802.2 1651.9) scale(0.993 1.035)">80</text><text filter="url(#hard)" transform="translate(2146.4 1651.9) scale(0.993 1.035)">100</text>
</g>
<text filter="url(#hard)" class="ttl" x="1285.4" y="1771" text-anchor="middle">Number of cycles (N)</text>
<g class="ttl">
<text filter="url(#hard)" transform="translate(77 1256.1) rotate(-90)" letter-spacing="0.1">Dynamic modulus</text>
<text filter="url(#hard)" class="it" transform="translate(77 670.4) rotate(-90) scale(1.13 1)">E</text>
<text filter="url(#hard)" class="it" font-size="50" transform="translate(95.9 620.9) rotate(-90) scale(1.15 1)">d</text>
<text filter="url(#hard)" transform="translate(77 564.1) rotate(-90)" letter-spacing="0.5">(MPa)</text>
</g>
<g shape-rendering="crispEdges" stroke="#0000ff"><line class="ln" stroke-width="7.6" x1="412.6" y1="1067" x2="560.8" y2="1067"/><g class="mk" stroke-width="5.4"><rect x="480.4" y="1060.3" width="12.3" height="12.3"/></g></g>
<text filter="url(#hard)" class="it" font-size="73" transform="translate(580.3 1091.6) scale(1.22 1)">σ</text><text filter="url(#hard)" font-size="46" x="618" y="1108">3</text><text filter="url(#hard)" class="leg" transform="translate(638.4 1086.4) scale(1.17 0.87)">=</text><text filter="url(#hard)" class="leg" transform="translate(678.9 1089.2) scale(1 1.03)" letter-spacing="0.4">0kPa</text>
<g shape-rendering="crispEdges" stroke="#ff00ff"><line class="ln" stroke-width="7.6" x1="412.6" y1="1173.5" x2="560.8" y2="1173.5"/><g class="mk" stroke-width="5.4"><circle cx="486.5" cy="1172.3" r="7.3"/></g></g>
<text filter="url(#hard)" class="it" font-size="73" transform="translate(580.3 1198.1) scale(1.22 1)">σ</text><text filter="url(#hard)" font-size="46" x="618" y="1214.5">3</text><text filter="url(#hard)" class="leg" transform="translate(638.4 1192.9) scale(1.17 0.87)">=</text><text filter="url(#hard)" class="leg" transform="translate(678.9 1195.7) scale(1 1.03)" letter-spacing="0.4">25kPa</text>
<g shape-rendering="crispEdges" stroke="#008000"><line class="ln" stroke-width="7.6" x1="412.6" y1="1280" x2="560.8" y2="1280"/><g class="mk" stroke-width="5.2"><path d="M486.5 1267.9L495.5 1283.9H477.5Z"/></g></g>
<text filter="url(#hard)" class="it" font-size="73" transform="translate(580.3 1304.6) scale(1.22 1)">σ</text><text filter="url(#hard)" font-size="46" x="618" y="1321">3</text><text filter="url(#hard)" class="leg" transform="translate(638.4 1299.4) scale(1.17 0.87)">=</text><text filter="url(#hard)" class="leg" transform="translate(678.9 1302.2) scale(1 1.03)" letter-spacing="0.4">50kPa</text>
<g shape-rendering="crispEdges" stroke="#ff8000"><line class="ln" stroke-width="7.6" x1="412.6" y1="1386.5" x2="560.8" y2="1386.5"/><g class="mk" stroke-width="5.2"><path d="M486.5 1395.5L495.5 1379.5H477.5Z"/></g></g>
<text filter="url(#hard)" class="it" font-size="73" transform="translate(580.3 1411.1) scale(1.22 1)">σ</text><text filter="url(#hard)" font-size="46" x="618" y="1427.5">3</text><text filter="url(#hard)" class="leg" transform="translate(638.4 1405.9) scale(1.17 0.87)">=</text><text filter="url(#hard)" class="leg" transform="translate(678.9 1408.7) scale(1 1.03)" letter-spacing="0.4">75kPa</text>
<g shape-rendering="crispEdges" stroke="#00ffff"><line class="ln" stroke-width="7.6" x1="412.6" y1="1493" x2="560.8" y2="1493"/><g class="mk" stroke-width="5.7"><path d="M486.5 1482.3L496.1 1491.9L486.5 1501.5L476.9 1491.9Z"/></g></g>
<text filter="url(#hard)" class="it" font-size="73" transform="translate(580.3 1517.6) scale(1.22 1)">σ</text><text filter="url(#hard)" font-size="46" x="618" y="1534">3</text><text filter="url(#hard)" class="leg" transform="translate(638.4 1512.4) scale(1.17 0.87)">=</text><text filter="url(#hard)" class="leg" transform="translate(678.9 1515.2) scale(1 1.03)" letter-spacing="0.4">100kPa</text>
</svg>
</body>
</html>
